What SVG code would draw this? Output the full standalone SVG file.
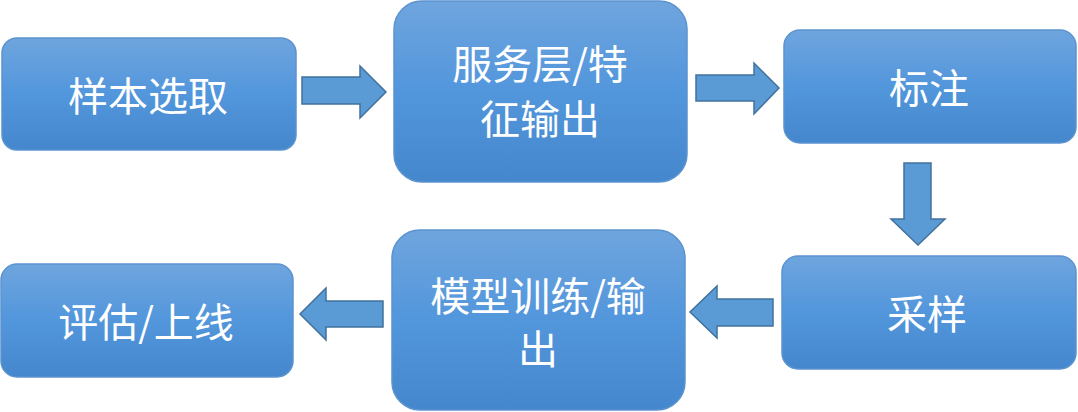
<svg xmlns="http://www.w3.org/2000/svg" width="1078" height="412" viewBox="0 0 1078 412">
<defs>
<linearGradient id="g" x1="0" y1="0" x2="0" y2="1">
<stop offset="0" stop-color="#6fa5de"/>
<stop offset="0.5" stop-color="#5296dc"/>
<stop offset="1" stop-color="#4587cc"/>
</linearGradient>
<style>
.box{fill:url(#g);stroke:#5b93cf;stroke-width:1.5}
.arr{fill:#5b9bd5;stroke:#41719c;stroke-width:1.5}
text{fill:#ffffff;font-family:"Microsoft YaHei","Noto Sans CJK SC",sans-serif;text-anchor:middle;dominant-baseline:central;font-size:40px}
</style>
</defs>
<g id="connectors">
<polygon class="arr" points="302,77 360,77 360,66 386,92 360,118 360,104 302,104"/>
<polygon class="arr" points="696,75 754,75 754,63 779,88 754,114 754,101 696,101"/>
<polygon class="arr" points="904,163 931,163 931,219 945,219 918,245 891,219 904,219"/>
<polygon class="arr" points="773,299 717,299 717,286 690,312 717,338 717,326 773,326"/>
<polygon class="arr" points="383,301 326,301 326,288 300,314 326,340 326,327 383,327"/>
</g>
<g id="n1"><rect class="box" x="2" y="38" width="294" height="112" rx="15"/><text x="148" y="94">样本选取</text></g>
<g id="n2"><rect class="box" x="394" y="1" width="293" height="181" rx="28"/><text><tspan x="540" y="62">服务层/特</tspan><tspan x="540" y="117">征输出</tspan></text></g>
<g id="n3"><rect class="box" x="784" y="30" width="292" height="113" rx="16"/><text x="929" y="86">标注</text></g>
<g id="n4"><rect class="box" x="782" y="256" width="294" height="113" rx="16"/><text x="927" y="312">采样</text></g>
<g id="n5"><rect class="box" x="392" y="230" width="293" height="180" rx="28"/><text><tspan x="538" y="294">模型训练/输</tspan><tspan x="538" y="347">出</tspan></text></g>
<g id="n6"><rect class="box" x="1" y="264" width="292" height="113" rx="16"/><text x="146" y="320">评估/上线</text></g>
</svg>
